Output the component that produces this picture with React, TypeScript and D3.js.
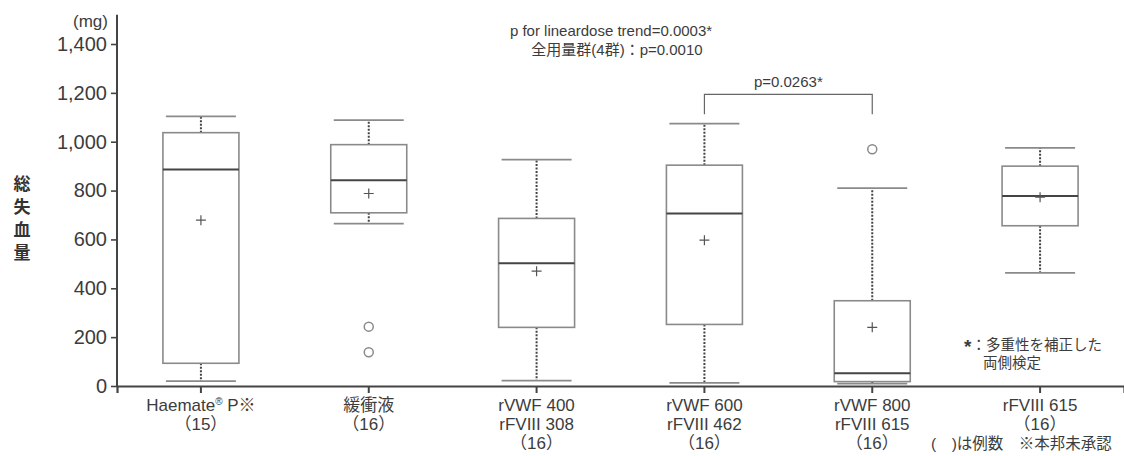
import { useEffect, useRef } from "react";
import * as d3 from "d3";

// groups (mg)
const groupKeys = ["haemate", "buffer", "v400", "v600", "v800", "f615"];
const labelLines = [
  ["Haemate® P※", "（15）"],
  ["緩衝液", "（16）"],
  ["rVWF 400", "rFVIII 308", "（16）"],
  ["rVWF 600", "rFVIII 462", "（16）"],
  ["rVWF 800", "rFVIII 615", "（16）"],
  ["rFVIII 615", "（16）"],
];
const whiskerHigh = [1104, 1088, 927, 1074, 810, 975];
const q3 = [1037, 988, 686, 904, 349, 900];
const median = [886, 842, 502, 706, 52, 778];
const mean = [679, 788, 470, 597, 240, 773];
const q1 = [93, 709, 240, 252, 18, 656];
const whiskerLow = [20, 665, 22, 13, 10, 463];
const outliers = [[], [243, 138], [], [], [969], []];
const yTicks = [0, 200, 400, 600, 800, 1000, 1200, 1400];

const FONT = "'Liberation Sans', Arial, 'Noto Sans CJK JP', sans-serif";
const LINE = "#8a8a8a";
const DARK = "#444";
const TEXT = "#3c3c3c";

export default function App() {
  const ref = useRef<SVGSVGElement>(null);

  useEffect(() => {
    const svg = d3.select(ref.current);
    svg.selectAll("*").remove();

    const x = d3.scaleBand().domain(groupKeys).range([117, 1124]).padding(0);
    const y = d3.scaleLinear().domain([0, 1400]).range([386, 44]);
    const cx = (i: number) => x(groupKeys[i])! + x.bandwidth() / 2;
    const boxW = 76;
    const capW = 70;

    // y axis
    const yAxis = svg
      .append("g")
      .attr("transform", "translate(117,0)")
      .call(
        d3
          .axisLeft(y)
          .tickValues(yTicks)
          .tickFormat(d3.format(","))
          .tickSize(6)
          .tickPadding(4),
      );
    yAxis.select(".domain").remove();
    yAxis.selectAll("line").attr("stroke", DARK).attr("stroke-width", 1.6);
    yAxis
      .selectAll("text")
      .attr("fill", TEXT)
      .style("font-family", FONT)
      .style("font-size", "20px");
    svg
      .append("line")
      .attr("x1", 117)
      .attr("x2", 117)
      .attr("y1", y(0))
      .attr("y2", y(1520))
      .attr("stroke", DARK)
      .attr("stroke-width", 2);

    svg
      .append("text")
      .attr("x", 108)
      .attr("y", 27)
      .attr("text-anchor", "end")
      .attr("fill", TEXT)
      .style("font-family", FONT)
      .style("font-size", "17px")
      .text("(mg)");

    // y title, stacked characters
    svg
      .append("g")
      .selectAll("text")
      .data(["総", "失", "血", "量"])
      .enter()
      .append("text")
      .attr("x", 22)
      .attr("y", (_, i) => 190 + i * 23)
      .attr("text-anchor", "middle")
      .attr("fill", "#333")
      .style("font-family", "'Noto Sans CJK JP', sans-serif")
      .style("font-weight", "bold")
      .style("font-size", "17px")
      .text((d) => d);

    // x axis
    const xAxis = svg
      .append("g")
      .attr("transform", `translate(0,${y(0)})`)
      .call(d3.axisBottom(x).tickSize(7).tickFormat(() => ""));
    xAxis.select(".domain").attr("stroke", DARK).attr("stroke-width", 2.2);
    xAxis.selectAll("line").attr("stroke", DARK).attr("stroke-width", 2);

    const labels = svg
      .append("g")
      .selectAll("text")
      .data(labelLines)
      .enter()
      .append("text")
      .attr("text-anchor", "middle")
      .attr("fill", TEXT)
      .style("font-family", FONT)
      .style("font-size", "17px");
    labels.each(function (lines, i) {
      const t = d3.select(this);
      lines.forEach((line, j) => {
        const ts = t
          .append("tspan")
          .attr("x", cx(i))
          .attr("y", 411 + j * 19);
        if (line.startsWith("Haemate")) {
          ts.text("Haemate");
          t.append("tspan")
            .attr("dy", -6)
            .style("font-size", "10px")
            .text("®");
          t.append("tspan").attr("dy", 6).text(" P※");
        } else {
          ts.text(line);
        }
      });
    });

    const boxes = svg
      .append("g")
      .selectAll("g")
      .data(groupKeys)
      .enter()
      .append("g");

    // whiskers (dotted) from box edges to caps
    boxes
      .append("line")
      .attr("x1", (_, i) => cx(i))
      .attr("x2", (_, i) => cx(i))
      .attr("y1", (_, i) => y(q3[i]))
      .attr("y2", (_, i) => y(whiskerHigh[i]))
      .attr("stroke", DARK)
      .attr("stroke-width", 2)
      .attr("stroke-dasharray", "2,1.5");
    boxes
      .append("line")
      .attr("x1", (_, i) => cx(i))
      .attr("x2", (_, i) => cx(i))
      .attr("y1", (_, i) => y(q1[i]))
      .attr("y2", (_, i) => y(whiskerLow[i]))
      .attr("stroke", DARK)
      .attr("stroke-width", 2)
      .attr("stroke-dasharray", "2,1.5");

    // caps
    [whiskerHigh, whiskerLow].forEach((arr) => {
      boxes
        .append("line")
        .attr("x1", (_, i) => cx(i) - capW / 2)
        .attr("x2", (_, i) => cx(i) + capW / 2)
        .attr("y1", (_, i) => y(arr[i]))
        .attr("y2", (_, i) => y(arr[i]))
        .attr("stroke", LINE)
        .attr("stroke-width", 1.8);
    });

    // boxes
    boxes
      .append("rect")
      .attr("x", (_, i) => cx(i) - boxW / 2)
      .attr("y", (_, i) => y(q3[i]))
      .attr("width", boxW)
      .attr("height", (_, i) => y(q1[i]) - y(q3[i]))
      .attr("fill", "white")
      .attr("stroke", LINE)
      .attr("stroke-width", 1.6);

    boxes
      .append("line")
      .attr("x1", (_, i) => cx(i) - boxW / 2)
      .attr("x2", (_, i) => cx(i) + boxW / 2)
      .attr("y1", (_, i) => y(median[i]))
      .attr("y2", (_, i) => y(median[i]))
      .attr("stroke", DARK)
      .attr("stroke-width", 2);

    // mean markers
    boxes
      .append("path")
      .attr("d", (_, i) => {
        const px = cx(i);
        const py = y(mean[i]);
        return `M${px - 5},${py}H${px + 5}M${px},${py - 5}V${py + 5}`;
      })
      .attr("stroke", "#555")
      .attr("stroke-width", 1.2);

    // outliers
    boxes
      .selectAll("circle")
      .data((_, i) => outliers[i].map((v) => ({ v, i })))
      .enter()
      .append("circle")
      .attr("cx", (d) => cx(d.i))
      .attr("cy", (d) => y(d.v))
      .attr("r", 4.5)
      .attr("fill", "white")
      .attr("stroke", LINE)
      .attr("stroke-width", 1.5);

    // pairwise comparison bracket
    const bx1 = cx(3);
    const bx2 = cx(4);
    svg
      .append("path")
      .attr("d", `M${bx1},${y(1112)}V${y(1194)}H${bx2}V${y(1112)}`)
      .attr("fill", "none")
      .attr("stroke", "#666")
      .attr("stroke-width", 1.2);
    svg
      .append("text")
      .attr("x", (bx1 + bx2) / 2)
      .attr("y", 87)
      .attr("text-anchor", "middle")
      .attr("fill", TEXT)
      .style("font-family", FONT)
      .style("font-size", "15px")
      .text("p=0.0263*");

    // top notes
    const note = (tx: number, ty: number, s: string, anchor = "middle", size = 15) =>
      svg
        .append("text")
        .attr("x", tx)
        .attr("y", ty)
        .attr("text-anchor", anchor)
        .attr("fill", TEXT)
        .style("font-family", FONT)
        .style("font-size", `${size}px`)
        .text(s);
    note(611, 36, "p for lineardose trend=0.0003*");
    note(617, 55, "全用量群(4群)：p=0.0010");
    const fn = note(964, 350, "", "start", 14.5);
    fn.append("tspan")
      .style("font-size", "19px")
      .style("font-weight", "bold")
      .attr("dy", 3)
      .text("*");
    fn.append("tspan").attr("dy", -3).text("：多重性を補正した");
    note(983, 368, "両側検定", "start", 14.5);
    note(931, 449, "(　)は例数　※本邦未承認", "start", 15.5);
  }, []);

  return (
    <svg
      ref={ref}
      width={1124}
      height={456}
      style={{ position: "absolute", left: 0, top: 0, background: "white" }}
    ></svg>
  );
}
